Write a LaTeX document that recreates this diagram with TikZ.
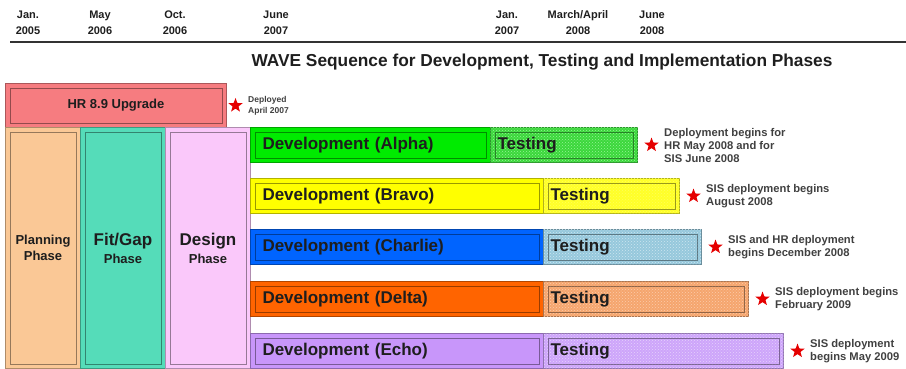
\documentclass[tikz,border=0pt]{standalone}
\usepackage{fontspec}
\setmainfont{Liberation Sans}
\usetikzlibrary{positioning,shapes.geometric,patterns}

\definecolor{hrfill}{RGB}{246,124,128}
\definecolor{planfill}{RGB}{250,200,150}
\definecolor{fitfill}{RGB}{85,220,185}
\definecolor{designfill}{RGB}{250,200,250}
\definecolor{devalpha}{RGB}{0,235,0}
\definecolor{testalpha}{RGB}{60,215,60}
\definecolor{dotsalpha}{RGB}{150,245,150}
\definecolor{devbravo}{RGB}{255,255,0}
\definecolor{testbravo}{RGB}{255,255,40}
\definecolor{dotsbravo}{RGB}{255,255,90}
\definecolor{devcharlie}{RGB}{0,100,255}
\definecolor{testcharlie}{RGB}{150,200,220}
\definecolor{dotscharlie}{RGB}{205,230,240}
\definecolor{devdelta}{RGB}{255,100,0}
\definecolor{testdelta}{RGB}{245,165,110}
\definecolor{dotsdelta}{RGB}{252,205,170}
\definecolor{devecho}{RGB}{200,150,250}
\definecolor{testecho}{RGB}{205,165,250}
\definecolor{dotsecho}{RGB}{230,210,252}
\definecolor{inktext}{RGB}{30,30,30}

\tikzset{
	phasebox/.style={draw=#1!70!black, fill=#1, line width=1pt, anchor=north west,
		inner sep=0pt, align=center},
	devbox/.style={draw=#1!70!black, fill=#1, line width=1pt, anchor=north west,
		inner xsep=12pt, inner ysep=0pt, minimum height=35pt, align=left,
		font=\fontsize{17}{19}\selectfont\bfseries},
	testbox/.style={draw=#1!70!black, fill=#1, line width=1pt, anchor=north west,
		inner xsep=7pt, inner ysep=0pt, minimum height=35pt, align=left,
		font=\fontsize{17}{19}\selectfont\bfseries},
	innerframe/.style={draw=black, draw opacity=0.4, line width=0.8pt},
	deploystar/.style={star, star points=5, star point ratio=2.4, fill=red!90!black,
		draw=none, inner sep=0pt, minimum size=15pt},
	notetext/.style={anchor=west, align=left, inner sep=0pt, text=inktext!85,
		font=\fontsize{11.2}{13}\selectfont\bfseries},
	datelabel/.style={align=center, inner sep=0pt, text=inktext,
		font=\fontsize{11}{16}\selectfont\bfseries},
	titletext/.style={inner sep=0pt, text=inktext,
		font=\fontsize{17.3}{19}\selectfont\bfseries}
}

\begin{document}
\begin{tikzpicture}[x=1pt, y=-1pt, text=inktext, font=\bfseries]

	% ---- frame

	\useasboundingbox (0,0) rectangle (906,369);

	% ---- time line

	\foreach \x/\mon/\yr [count=\i] in {28/Jan./2005, 100/May/2006, 175/Oct./2006,
		276/June/2007, 507/Jan./2007, 578/{March/April}/2008, 652/June/2008} {
		\node[datelabel] (date\i) at (\x,23) {\mon\\\yr};
	}

	\coordinate (lineL) at (10,42);
	\coordinate (lineR) at (906,42);
	\draw[line width=2pt, black!80] (lineL) -- (lineR);

	\node[titletext] (title) at (542,62)
		{WAVE Sequence for Development, Testing and Implementation Phases};

	% ---- HR upgrade

	\node[phasebox=hrfill, minimum width=221pt, minimum height=44pt,
		font=\fontsize{13}{15}\selectfont\bfseries] (hr) at (5,83) {HR 8.9 Upgrade};
	\node[deploystar, right=4pt of hr] (starhr) {};
	\node[notetext, font=\fontsize{8.5}{11}\selectfont\bfseries, right=8pt of starhr]
		(notehr) {Deployed\\April 2007};

	% ---- phases

	\node[phasebox=planfill, minimum width=75pt, minimum height=241pt,
		font=\fontsize{13}{16}\selectfont\bfseries] (plan) at (5,127) {Planning\\Phase};
	\node[phasebox=fitfill, minimum width=85pt, minimum height=241pt,
		font=\fontsize{13}{18}\selectfont\bfseries] (fitgap) at (80,127)
		{{\fontsize{17}{18}\selectfont Fit/Gap}\\Phase};
	\node[phasebox=designfill, minimum width=85pt, minimum height=241pt,
		font=\fontsize{13}{18}\selectfont\bfseries] (design) at (165,127)
		{{\fontsize{17}{18}\selectfont Design}\\Phase};

	% ---- development and testing waves

	\foreach \name/\y/\devend/\testend/\label/\note in {
		alpha/127/490/637/Alpha/{Deployment begins for\\HR May 2008 and for\\SIS June 2008},
		bravo/178/543/679/Bravo/{SIS deployment begins\\August 2008},
		charlie/229/543/701/Charlie/{SIS and HR deployment\\begins December 2008},
		delta/281/543/748/Delta/{SIS deployment begins\\February 2009},
		echo/333/543/783/Echo/{SIS deployment\\begins May 2009}} {
		\pgfmathsetmacro{\devw}{\devend-250}
		\pgfmathsetmacro{\devtw}{\devend-250-24}
		\pgfmathsetmacro{\testw}{\testend-\devend}
		\pgfmathsetmacro{\testtw}{\testend-\devend-14}
		\node[devbox=dev\name, minimum width=\devw pt, text width=\devtw pt]
			(dev\name) at (250,\y) {Development (\label)};
		\node[testbox=test\name, minimum width=\testw pt, text width=\testtw pt,
			postaction={pattern=crosshatch dots, pattern color=dots\name}]
			(test\name) at (\devend,\y) {Testing};
		\node[deploystar, right=9pt of test\name] (star\name) {};
		\node[notetext, right=8pt of star\name] (note\name) {\note};
	}

	% ---- inner frames

	\foreach \n in {hr,plan,fitgap,design,devalpha,testalpha,devbravo,testbravo,
		devcharlie,testcharlie,devdelta,testdelta,devecho,testecho} {
		\draw[innerframe] ([shift={(5pt,-5pt)}]\n.north west)
			rectangle ([shift={(-5pt,5pt)}]\n.south east);
	}

\end{tikzpicture}
\end{document}
